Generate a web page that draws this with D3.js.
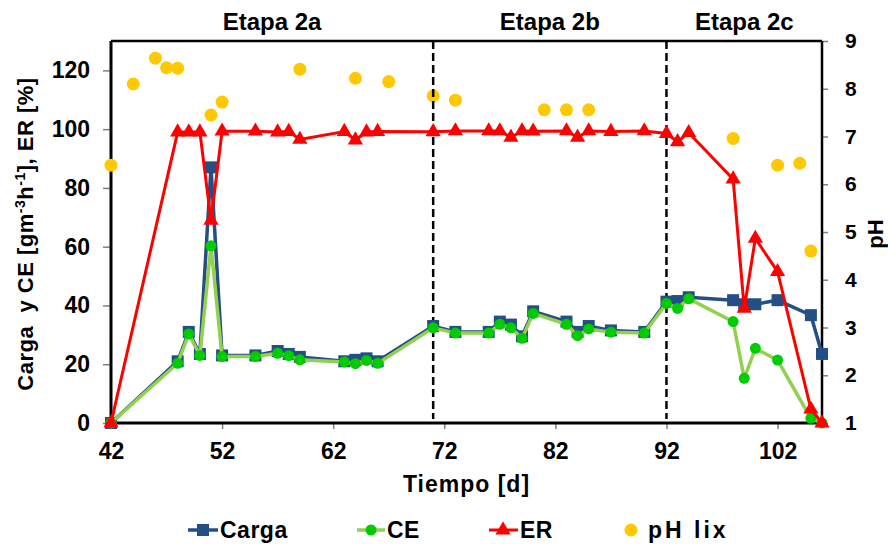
<!DOCTYPE html>
<html>
<head>
<meta charset="utf-8">
<title>Etapas 2a-2c</title>
<script src="https://cdn.jsdelivr.net/npm/d3@7"></script>
<style>
  body { margin: 0; background: #fff; }
  text { font-family: "Liberation Sans", Arial, sans-serif; font-weight: bold; fill: #000; }
</style>
</head>
<body>
<div id="chart"></div>
<script>
// days sampled for Carga, CE and ER
var days = [42, 48, 49, 50, 51, 52, 55, 57, 58, 59, 63, 64, 65, 66, 71, 73, 76, 77, 78, 79,
            80, 83, 84, 85, 87, 90, 92, 93, 94, 98, 99, 100, 102, 105, 106];
var carga = [0, 21, 31, 23.5, 87, 23, 23, 24.5, 23.5, 22.5, 21, 21.5, 22, 21, 33, 31, 31, 34.5, 33.5, 29.5,
             38, 34.5, 31, 33, 31.5, 31, 41.3, 41.5, 42.8, 41.8, 40.4, 40.4, 41.8, 36.7, 23.5];
var ce = [0, 20.3, 30.3, 23, 60.3, 22.6, 22.6, 23.7, 22.9, 21.5, 20.8, 20.2, 21.3, 20.3, 32.4, 30.6, 30.6, 33.6, 32.4, 28.8,
          37.3, 33.6, 29.7, 32, 30.9, 30.6, 40.7, 39, 42.3, 34.5, 15.2, 25.4, 21.4, 1.6, 0];
var er = [0, 99, 99, 99, 69, 99.3, 99.3, 99, 99.2, 96.5, 99.2, 96.3, 99, 99.2, 99.1, 99.4, 99.4, 99.4, 97.2, 99.4,
          99.3, 99.4, 97.2, 99.4, 99.2, 99.4, 98.5, 95.7, 98.8, 83, 39, 62.8, 51.5, 4.7, 0];

// pH of the leachate (right axis)
var phDays = [42, 44, 46, 47, 48, 51, 52, 59, 64, 67, 71, 73, 81, 83, 85, 98, 102, 104, 105];
var phLix = [6.4, 8.1, 8.64, 8.44, 8.43, 7.45, 7.72, 8.41, 8.22, 8.15, 7.85, 7.76, 7.56, 7.56, 7.56, 6.96, 6.4, 6.44, 4.6];

// stages
var stageNames = ["Etapa 2a", "Etapa 2b", "Etapa 2c"];
var stageLimits = [42, 71, 92, 106];

var xTicks = [42, 52, 62, 72, 82, 92, 102];
var yTicks = [0, 20, 40, 60, 80, 100, 120];
var phTicks = [1, 2, 3, 4, 5, 6, 7, 8, 9];

var width = 888, height = 544;
var pLeft = 111, pRight = 822, pTop = 41, pBottom = 423;

var svg = d3.select("#chart").append("svg")
  .attr("width", width)
  .attr("height", height);

var x = d3.scaleLinear().domain([42, 106]).range([pLeft, pRight]);
var y = d3.scaleLinear().domain([0, 130]).range([pBottom, pTop]);
var yPh = d3.scaleLinear().domain([1, 9]).range([pBottom, pTop]);

// axes
var xAxis = svg.append("g")
  .attr("transform", "translate(0," + pBottom + ")")
  .call(d3.axisBottom(x).tickValues(xTicks).tickSize(6).tickPadding(14).tickSizeOuter(0));
xAxis.selectAll("text").style("font-size", "23px");

var yAxis = svg.append("g")
  .attr("transform", "translate(" + pLeft + ",0)")
  .call(d3.axisLeft(y).tickValues(yTicks).tickSize(8).tickPadding(13).tickSizeOuter(0));
yAxis.selectAll("text").style("font-size", "23px");

var phAxis = svg.append("g")
  .attr("transform", "translate(" + pRight + ",0)")
  .call(d3.axisRight(yPh).tickValues(phTicks).tickSize(6).tickPadding(17).tickSizeOuter(0));
phAxis.selectAll("text").style("font-size", "21px");

svg.selectAll(".tick line").attr("stroke", "#808080").attr("stroke-width", 1.5);
svg.selectAll(".domain").remove();

// frame
svg.append("line").attr("x1", pLeft).attr("x2", pRight).attr("y1", pTop).attr("y2", pTop)
  .attr("stroke", "#000").attr("stroke-width", 2.5);
svg.append("line").attr("x1", pRight).attr("x2", pRight).attr("y1", pTop).attr("y2", pBottom)
  .attr("stroke", "#000").attr("stroke-width", 2.5);
svg.append("line").attr("x1", pLeft).attr("x2", pLeft).attr("y1", pTop).attr("y2", pBottom + 1.5)
  .attr("stroke", "#000").attr("stroke-width", 3);
svg.append("line").attr("x1", pLeft - 1.5).attr("x2", pRight).attr("y1", pBottom).attr("y2", pBottom)
  .attr("stroke", "#000").attr("stroke-width", 3);

// pH points
svg.append("g").selectAll("circle")
  .data(phDays)
  .enter().append("circle")
  .attr("cx", function (d) { return x(d); })
  .attr("cy", function (d, i) { return yPh(phLix[i]); })
  .attr("r", 6.5)
  .attr("fill", "#FFC800");

// stage limits
svg.append("g").selectAll("line")
  .data(stageLimits.slice(1, 3))
  .enter().append("line")
  .attr("x1", function (d) { return x(d); })
  .attr("x2", function (d) { return x(d); })
  .attr("y1", pTop)
  .attr("y2", pBottom - 4)
  .attr("stroke", "#000")
  .attr("stroke-width", 2.5)
  .attr("stroke-dasharray", "8,4");

svg.append("g").selectAll("text")
  .data(stageNames)
  .enter().append("text")
  .attr("x", function (d, i) { return (x(stageLimits[i]) + x(stageLimits[i + 1])) / 2; })
  .attr("y", 30)
  .attr("text-anchor", "middle")
  .style("font-size", "24px")
  .text(function (d) { return d; });

// series
var line = function (vals) {
  return d3.line()
    .x(function (d) { return x(d); })
    .y(function (d, i) { return y(vals[i]); })(days);
};

svg.append("path").attr("d", line(carga))
  .attr("fill", "none").attr("stroke", "#234F84").attr("stroke-width", 3.5);
svg.append("g").selectAll("rect")
  .data(days)
  .enter().append("rect")
  .attr("x", function (d) { return x(d) - 6; })
  .attr("y", function (d, i) { return y(carga[i]) - 6; })
  .attr("width", 12).attr("height", 12)
  .attr("fill", "#234F84");

svg.append("path").attr("d", line(ce))
  .attr("fill", "none").attr("stroke", "#92D050").attr("stroke-width", 3.5);
svg.append("g").selectAll("circle")
  .data(days)
  .enter().append("circle")
  .attr("cx", function (d) { return x(d); })
  .attr("cy", function (d, i) { return y(ce[i]); })
  .attr("r", 5.5)
  .attr("fill", "#00CC00");

var tri = d3.symbol().type(d3.symbolTriangle).size(100);
svg.append("path").attr("d", line(er))
  .attr("fill", "none").attr("stroke", "#FF0000").attr("stroke-width", 3);
svg.append("g").selectAll("path")
  .data(days)
  .enter().append("path")
  .attr("d", tri)
  .attr("transform", function (d, i) { return "translate(" + x(d) + "," + y(er[i]) + ")"; })
  .attr("fill", "#FF0000");

// axis titles
svg.append("text")
  .attr("x", (pLeft + pRight) / 2)
  .attr("y", 492)
  .attr("text-anchor", "middle")
  .style("font-size", "23px")
  .style("letter-spacing", "1px")
  .text("Tiempo [d]");

var yTitle = svg.append("text")
  .attr("transform", "translate(33,234) rotate(-90)")
  .attr("text-anchor", "middle")
  .attr("xml:space", "preserve")
  .style("font-size", "22px")
  .style("letter-spacing", "0.5px");
yTitle.append("tspan").text("Carga  y CE [gm");
yTitle.append("tspan").attr("dy", -8).style("font-size", "14px").text("-3");
yTitle.append("tspan").attr("dy", 8).text("h");
yTitle.append("tspan").attr("dy", -8).style("font-size", "14px").text("-1");
yTitle.append("tspan").attr("dy", 8).text("], ER [%]");

svg.append("text")
  .attr("transform", "translate(883,234) rotate(-90)")
  .attr("text-anchor", "middle")
  .style("font-size", "22px")
  .text("pH");

// legend
var legend = svg.append("g").attr("transform", "translate(0,530)");
var items = ["Carga", "CE", "ER", "pH lix"];
var lx = [188, 357, 489, 623];

legend.append("line").attr("x1", lx[0]).attr("x2", lx[0] + 30).attr("stroke", "#234F84").attr("stroke-width", 3.5);
legend.append("rect").attr("x", lx[0] + 9).attr("y", -6).attr("width", 12).attr("height", 12).attr("fill", "#234F84");
legend.append("line").attr("x1", lx[1]).attr("x2", lx[1] + 28).attr("stroke", "#92D050").attr("stroke-width", 3.5);
legend.append("circle").attr("cx", lx[1] + 14).attr("r", 5.5).attr("fill", "#00CC00");
legend.append("line").attr("x1", lx[2]).attr("x2", lx[2] + 29).attr("stroke", "#FF0000").attr("stroke-width", 3);
legend.append("path").attr("d", tri).attr("transform", "translate(" + (lx[2] + 14) + ",0)").attr("fill", "#FF0000");
legend.append("circle").attr("cx", lx[3] + 8).attr("r", 6.5).attr("fill", "#FFC800");

var textX = [220, 387, 520, 648];
legend.selectAll("text")
  .data(items)
  .enter().append("text")
  .attr("x", function (d, i) { return textX[i]; })
  .attr("y", 8)
  .attr("xml:space", "preserve")
  .style("font-size", "23px")
  .style("letter-spacing", function (d, i) { return i == 3 ? "3px" : "0.5px"; })
  .text(function (d) { return d; });
</script>
</body>
</html>
